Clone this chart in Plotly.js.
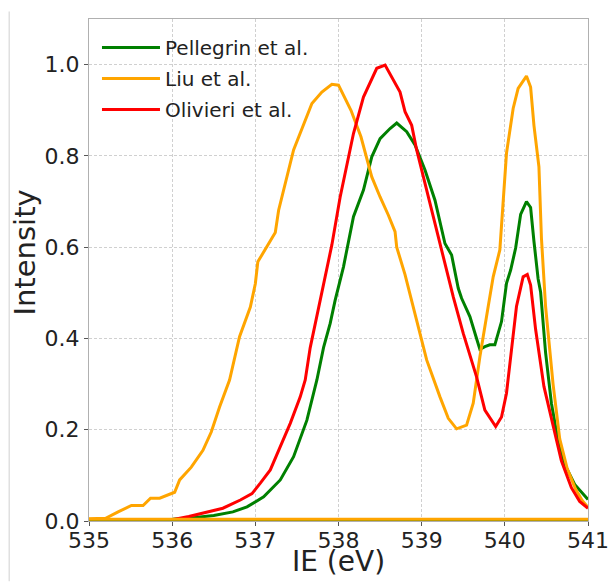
<!DOCTYPE html>
<html>
<head>
<meta charset="utf-8">
<script src="https://cdn.plot.ly/plotly-3.0.1.min.js"></script>
<style>html,body{margin:0;padding:0;background:#fff;}#chart{width:609px;height:582px;}</style>
</head>
<body>
<div id="chart"></div>
<script>
const pellegrinX = [535.0,536.0,536.25,536.5,536.73,536.9,537.1,537.3,537.46,537.62,537.74,537.82,537.9,537.96,538.06,538.18,538.3,538.4,538.5,538.62,538.7,538.82,538.92,539.04,539.16,539.28,539.36,539.44,539.48,539.58,539.66,539.7,539.76,539.82,539.88,539.96,540.02,540.07,540.13,540.19,540.26,540.31,540.35,540.4,540.43,540.49,540.56,540.64,540.72,540.84,541.0];
const pellegrinY = [0.003,0.004,0.007,0.012,0.02,0.031,0.053,0.09,0.141,0.221,0.309,0.38,0.433,0.484,0.557,0.667,0.725,0.798,0.838,0.86,0.872,0.853,0.824,0.769,0.703,0.608,0.583,0.51,0.488,0.448,0.4,0.376,0.382,0.386,0.386,0.437,0.521,0.55,0.598,0.672,0.7,0.687,0.613,0.531,0.502,0.369,0.258,0.176,0.124,0.08,0.047];

const liuX = [535.0,535.2,535.35,535.51,535.65,535.74,535.85,535.95,536.03,536.09,536.23,536.37,536.47,536.57,536.69,536.81,536.94,537.0,537.03,537.24,537.28,537.46,537.56,537.68,537.8,537.92,538.0,538.15,538.27,538.4,538.5,538.6,538.68,538.7,538.8,538.9,539.06,539.22,539.32,539.42,539.54,539.62,539.7,539.8,539.86,539.94,540.02,540.1,540.16,540.26,540.31,540.35,540.41,540.44,540.49,540.58,540.66,540.75,540.85,540.93,541.0];
const liuY = [0.005,0.006,0.02,0.034,0.034,0.05,0.05,0.057,0.063,0.09,0.118,0.155,0.195,0.25,0.309,0.404,0.469,0.52,0.568,0.632,0.681,0.813,0.86,0.915,0.94,0.957,0.955,0.9,0.842,0.754,0.71,0.67,0.634,0.6,0.54,0.469,0.353,0.272,0.225,0.202,0.21,0.258,0.36,0.47,0.535,0.594,0.806,0.904,0.948,0.975,0.951,0.867,0.776,0.62,0.47,0.3,0.18,0.115,0.07,0.045,0.03];

const olivieriX = [535.0,536.0,536.2,536.37,536.61,536.82,536.96,537.06,537.18,537.3,537.42,537.54,537.6,537.66,537.8,537.92,538.02,538.18,538.3,538.46,538.56,538.64,538.74,538.8,538.88,538.94,539.06,539.18,539.3,539.38,539.5,539.66,539.76,539.89,539.96,540.02,540.08,540.14,540.22,540.27,540.31,540.37,540.47,540.58,540.68,540.8,540.9,541.0];
const olivieriY = [0.002,0.003,0.01,0.017,0.028,0.046,0.06,0.083,0.112,0.163,0.214,0.272,0.309,0.38,0.5,0.605,0.71,0.849,0.929,0.992,0.999,0.973,0.94,0.897,0.867,0.813,0.725,0.637,0.55,0.491,0.411,0.316,0.243,0.207,0.228,0.28,0.375,0.47,0.535,0.54,0.517,0.42,0.295,0.206,0.132,0.073,0.043,0.028];

const baselineX = [535.0, 541.0];
const pellegrinBaseY = [0.003, 0.003];
const liuBaseY = [0.004, 0.004];

const names = ["Pellegrin et al.", "Liu et al.", "Olivieri et al."];
const colors = ["green", "orange", "red"];
const xTitle = "IE (eV)";
const yTitle = "Intensity";

const LW = 3;
const traces = [
  {x: pellegrinX, y: pellegrinY, name: names[0], legendgroup: "a", line: {color: colors[0], width: LW}},
  {x: liuX, y: liuY, name: names[1], legendgroup: "b", line: {color: colors[1], width: LW}},
  {x: olivieriX, y: olivieriY, name: names[2], legendgroup: "c", line: {color: colors[2], width: LW}},
  {x: baselineX, y: pellegrinBaseY, showlegend: false, hoverinfo: "skip", line: {color: colors[0], width: LW}},
  {x: baselineX, y: liuBaseY, showlegend: false, hoverinfo: "skip", line: {color: colors[1], width: LW}}
].map(t => Object.assign({type: "scatter", mode: "lines"}, t));

const axisCommon = {
  showline: true, mirror: true, linecolor: "#b0b0b0", linewidth: 1,
  showgrid: true, gridcolor: "#c4c4c4", griddash: "3px,2px", gridwidth: 0.8,
  ticks: "outside", ticklen: 4, tickcolor: "#555", zeroline: false,
  tickfont: {family: "DejaVu Sans", size: 22, color: "#222"}
};

const layout = {
  width: 609, height: 582,
  margin: {l: 89, r: 21, t: 19, b: 61},
  paper_bgcolor: "#fff", plot_bgcolor: "#fff",
  showlegend: true,
  legend: {x: 0.016, y: 0.982, xanchor: "left", yanchor: "top", bgcolor: "rgba(255,255,255,0)",
           itemwidth: 58,
           font: {family: "DejaVu Sans", size: 20, color: "#222"}, traceorder: "grouped", tracegroupgap: 2},
  xaxis: Object.assign({}, axisCommon, {range: [535, 541], dtick: 1, tick0: 535, ticklabelstandoff: -4}),
  yaxis: Object.assign({}, axisCommon, {range: [0, 1.1], dtick: 0.2, tick0: 0, tickformat: ".1f"}),
  annotations: [
    {text: xTitle, xref: "paper", yref: "paper", x: 0.5, y: -0.081, xanchor: "center", yanchor: "middle",
     showarrow: false, font: {family: "DejaVu Sans", size: 28, color: "#222"}},
    {text: yTitle, xref: "paper", yref: "paper", x: -0.128, y: 0.535, xanchor: "center", yanchor: "middle",
     textangle: -90, showarrow: false, font: {family: "DejaVu Sans", size: 29, color: "#222"}}
  ],
  shapes: [{type: "line", xref: "paper", yref: "paper", x0: -0.16, x1: -0.16, y0: -0.12, y1: 1.015,
            line: {color: "#d0d0d0", width: 1}}]
};

Plotly.newPlot("chart", traces, layout, {displayModeBar: false, staticPlot: true});
</script>
</body>
</html>
